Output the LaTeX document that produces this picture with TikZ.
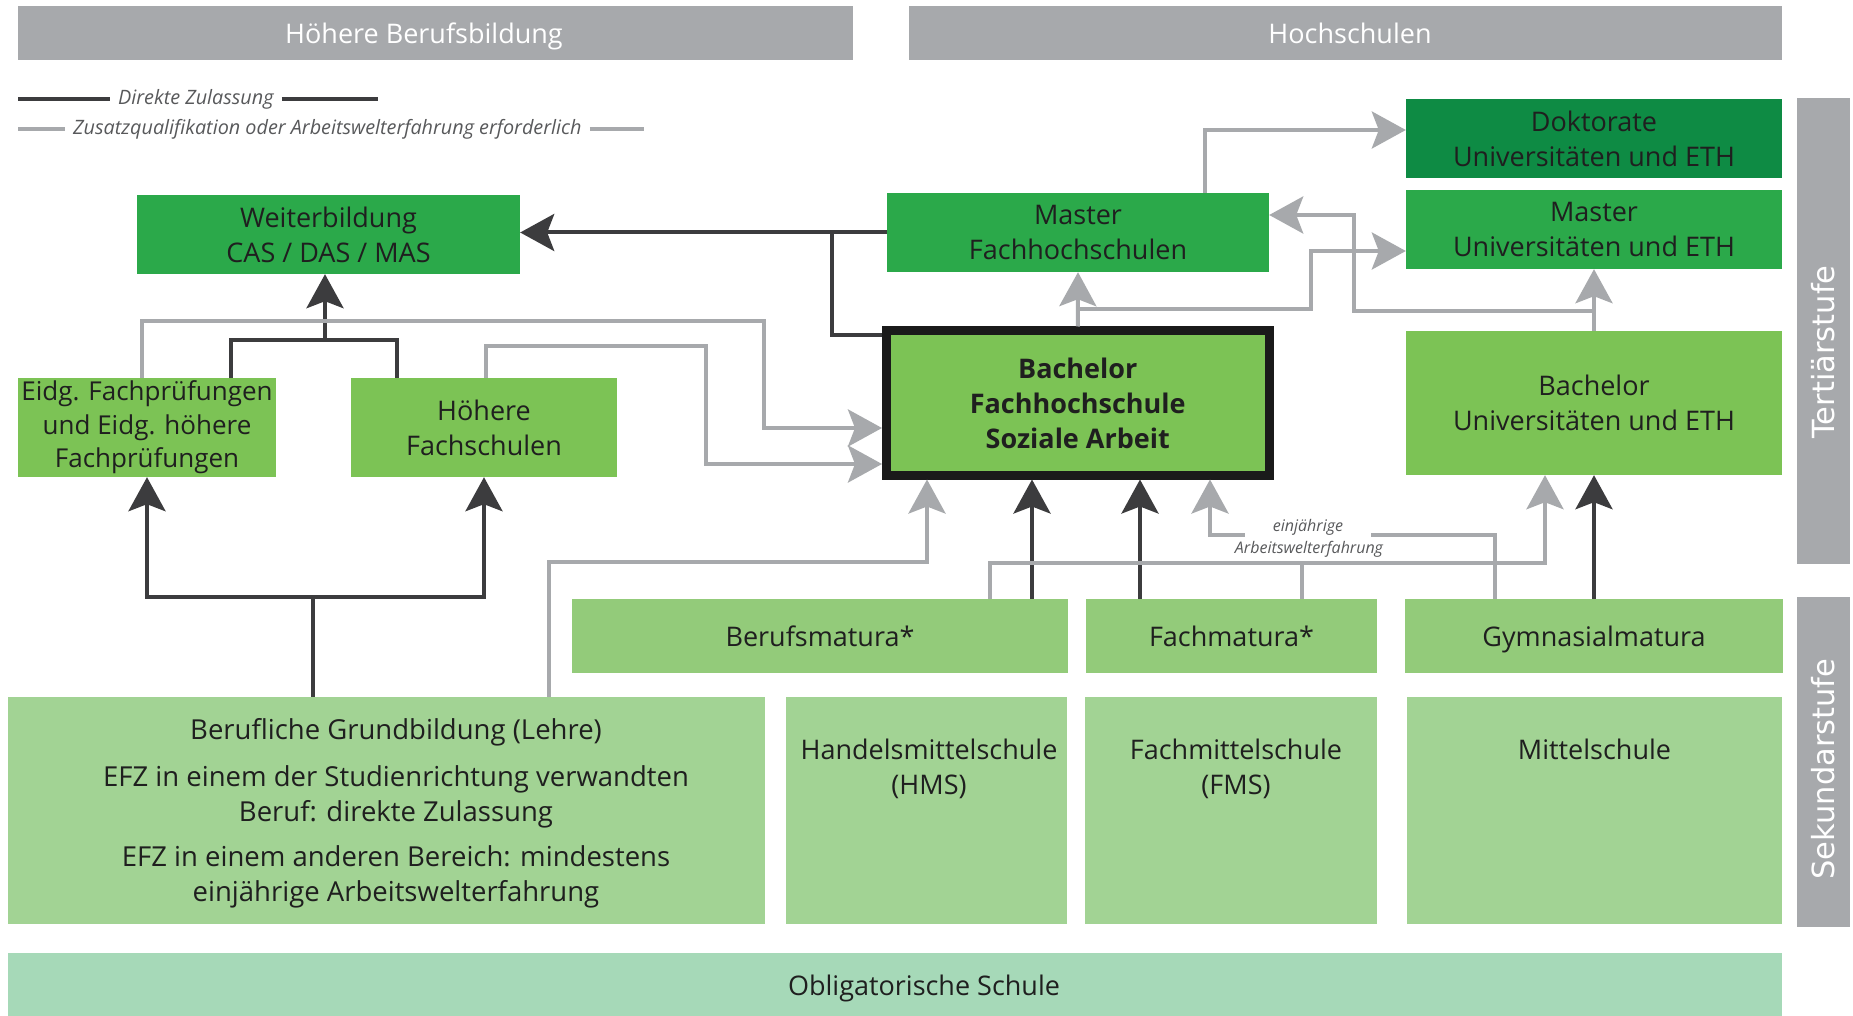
\documentclass[tikz,border=0pt]{standalone}
\usepackage{fontspec}
\setmainfont{Open Sans}
\newfontfamily\barfont{DejaVu Sans}
\usetikzlibrary{arrows.meta}
\definecolor{hdr}{HTML}{A7A9AC}
\definecolor{gdark}{HTML}{0E8B44}
\definecolor{gmid}{HTML}{2BA94A}
\definecolor{glight}{HTML}{7CC355}
\definecolor{gmat}{HTML}{93CB7A}
\definecolor{gsec}{HTML}{A2D394}
\definecolor{gobl}{HTML}{A6D9B8}
\definecolor{dkline}{HTML}{3C3C3E}
\definecolor{grline}{HTML}{A7A9AC}
\definecolor{bord}{HTML}{1A1A1A}
\definecolor{txt}{HTML}{1F1F1F}
\definecolor{legtxt}{HTML}{58595B}
\newcommand\mainsz{\fontsize{27}{35}\selectfont}
\begin{document}
\begin{tikzpicture}[x=1pt,y=-1pt,
  every node/.style={font=\mainsz, text=txt},
  box/.style={rectangle, inner sep=0pt, align=center},
  onel/.style={text height=24pt, text depth=4pt},
  hbox/.style={rectangle, inner sep=0pt, fill=hdr},
  htxt/.style={anchor=base, text=white, inner sep=0pt},
  vbar/.style={rectangle, inner sep=0pt, fill=hdr},
  bartxt/.style={rotate=90, text=white, font=\barfont\fontsize{30.5}{35}\selectfont},
  toptxt/.style={anchor=north, align=center, inner sep=0pt},
  dk/.style={draw=dkline, line width=4pt},
  gr/.style={draw=grline, line width=4pt},
  arr/.style={-{Stealth[length=34pt,width=37pt,inset=7pt]}},
  legend/.style={font=\itshape\fontsize{19.8}{22}\selectfont, text=legtxt, inner xsep=8pt, inner ysep=0pt},
  lbl/.style={font=\itshape\fontsize{16}{20}\selectfont, text=legtxt, inner sep=1pt}
]
\fill[white] (0,0) rectangle (1853,1016);
\useasboundingbox (0,0) rectangle (1853,1016);

% headers
\node[hbox, minimum width=835pt, minimum height=54pt] (h1) at (435.5,33) {};
\node[htxt] (h1t) at (424,44) {Höhere Berufsbildung};
\node[hbox, minimum width=873pt, minimum height=54pt] (h2) at (1345.5,33) {};
\node[htxt] (h2t) at (1350,44) {Hochschulen};

% side bars
\node[vbar, minimum width=53pt, minimum height=466pt] (tb) at (1823.5,331) {};
\node[bartxt] (tbt) at (1823.5,352) {Tertiärstufe};
\node[vbar, minimum width=53pt, minimum height=330pt] (sb) at (1823.5,762) {};
\node[bartxt] (sbt) at (1823.5,769) {Sekundarstufe};

% legend
\node[legend, anchor=west] (l1) at (110,99) {Direkte Zulassung};
\coordinate (l1a) at (18,99);
\coordinate (l1b) at (378,99);
\draw[dk, line width=4.5pt] (l1a) -- (l1.west);
\draw[dk, line width=4.5pt] (l1.east) -- (l1b);
\node[legend, anchor=west] (l2) at (65,129) {Zusatzqualifikation oder Arbeitswelterfahrung erforderlich};
\coordinate (l2a) at (18,129);
\coordinate (l2b) at (644,129);
\draw[gr] (l2a) -- (l2.west);
\draw[gr] (l2.east) -- (l2b);

% tertiary boxes
\node[box, fill=gmid, minimum width=383pt, minimum height=79pt] (wb) at (328.5,234.5) {Weiterbildung\\CAS / DAS / MAS};
\node[box, fill=gmid, minimum width=382pt, minimum height=79pt] (mfh) at (1078,232.5) {Master\\Fachhochschulen};
\node[box, fill=gdark, minimum width=376pt, minimum height=79pt] (dok) at (1594,138.5) {Doktorate\\Universitäten und ETH};
\node[box, fill=gmid, minimum width=376pt, minimum height=79pt] (mun) at (1594,229.5) {Master\\Universitäten und ETH};
\node[box, fill=glight, draw=bord, line width=9pt, minimum width=382.5pt, minimum height=144pt, font=\mainsz\bfseries] (bfh) at (1077.75,403) {Bachelor\\Fachhochschule\\Soziale Arbeit};
\node[box, fill=glight, minimum width=376pt, minimum height=144pt] (bun) at (1594,403) {Bachelor\\Universitäten und ETH};
\node[box, fill=glight, minimum width=258pt, minimum height=99pt, font=\fontsize{26}{33.5}\selectfont] (eidg) at (147,427.5) {Eidg. Fachprüfungen\\und Eidg. höhere\\Fachprüfungen};
\node[box, fill=glight, minimum width=266pt, minimum height=99pt] (hfs) at (484,427.5) {Höhere\\Fachschulen};

% matura
\node[box, onel, fill=gmat, minimum width=496pt, minimum height=74pt] (bm) at (820,636) {Berufsmatura*};
\node[box, onel, fill=gmat, minimum width=291pt, minimum height=74pt] (fm) at (1231.5,636) {Fachmatura*};
\node[box, onel, fill=gmat, minimum width=378pt, minimum height=74pt] (gm) at (1594,636) {Gymnasialmatura};

% secondary
\node[box, fill=gsec, minimum width=757pt, minimum height=227pt] (bg) at (386.5,810.5) {};
\node[toptxt, font=\fontsize{27.5}{35}\selectfont] (bgt) at (396,718) {Berufliche Grundbildung (Lehre)\\[12pt]EFZ in einem der Studienrichtung verwandten\\Beruf: direkte Zulassung\\[10pt]EFZ in einem anderen Bereich: mindestens\\einjährige Arbeitswelterfahrung};
\node[box, fill=gsec, minimum width=281pt, minimum height=227pt] (hms) at (926.5,810.5) {};
\node[toptxt] (hmst) at (929,739) {Handelsmittelschule\\(HMS)};
\node[box, fill=gsec, minimum width=292pt, minimum height=227pt] (fms) at (1231,810.5) {};
\node[toptxt] (fmst) at (1236,739) {Fachmittelschule\\(FMS)};
\node[box, fill=gsec, minimum width=375pt, minimum height=227pt] (ms) at (1594.5,810.5) {};
\node[toptxt] (mst) at (1594.5,739) {Mittelschule};

% obligatorische Schule
\node[box, fill=gobl, minimum width=1774pt, minimum height=63pt] (ob) at (895,984.5) {};
\node (obt) at (924,988.5) {Obligatorische Schule};

% ---- dark connectors
\draw[dk, arr] (mfh.west) -- (mfh.west -| wb.east);
\coordinate (d1) at (832,232.5);
\coordinate (d2) at (832,335);
\draw[dk] (bfh.west |- d2) -- (d2) -- (d1);

\coordinate (wj) at (325,340);
\coordinate (e1) at (231,340);
\coordinate (e2) at (397,340);
\draw[dk] (eidg.north -| e1) -- (e1) -- (e2) -- (hfs.north -| e2);
\draw[dk, arr] (wj) -- (wj |- wb.south);

\coordinate (bj) at (313,597);
\draw[dk] (bg.north -| bj) -- (bj);
\draw[dk, arr] (bj) -| (eidg.south);
\draw[dk, arr] (bj) -| (hfs.south);

\coordinate (a1) at (1032,560);
\coordinate (a2) at (1140,560);
\draw[dk, arr] (bm.north -| a1) -- (bfh.south -| a1);
\draw[dk, arr] (fm.north -| a2) -- (bfh.south -| a2);
\draw[dk, arr] (gm.north) -- (bun.south);

% ---- gray connectors
\coordinate (g1) at (142,321);
\coordinate (g2) at (764,321);
\coordinate (g2b) at (764,428);
\draw[gr, arr] (eidg.north -| g1) -- (g1) -- (g2) -- (g2b) -- (bfh.west |- g2b);

\coordinate (g3) at (486,346);
\coordinate (g4) at (706,346);
\coordinate (g4b) at (706,464);
\draw[gr, arr] (hfs.north -| g3) -- (g3) -- (g4) -- (g4b) -- (bfh.west |- g4b);

\coordinate (g5) at (549,562);
\coordinate (g6) at (927,562);
\draw[gr, arr] (bg.north -| g5) -- (g5) -- (g6) -- (bfh.south -| g6);

\coordinate (g7) at (990,563);
\coordinate (g8) at (1545,563);
\coordinate (g9) at (1302,563);
\draw[gr, arr] (bm.north -| g7) -- (g7) -- (g8) -- (bun.south -| g8);
\draw[gr] (fm.north -| g9) -- (g9);

\coordinate (g10) at (1495,535);
\coordinate (g11) at (1210,535);
\draw[gr, arr] (gm.north -| g10) -- (g10) -- (g11) -- (bfh.south -| g11);
\node[lbl, fill=white, inner xsep=28pt, inner ysep=2pt] (ej) at (1308,527) {einjährige};
\node[lbl] (awe) at (1309,549) {Arbeitswelterfahrung};

\draw[gr, arr] (bfh.north) -- (mfh.south);
\coordinate (g12) at (1311,309);
\coordinate (g13) at (1311,251);
\draw[gr, arr] (bfh.north |- g12) -- (g12) -- (g13) -- (mun.west |- g13);

\draw[gr, arr] (bun.north) -- (mun.south);
\coordinate (g14) at (1354,311);
\coordinate (g15) at (1354,215);
\draw[gr, arr] (bun.north |- g14) -- (g14) -- (g15) -- (mfh.east |- g15);

\coordinate (g16) at (1205,130);
\draw[gr, arr] (mfh.north -| g16) -- (g16) -- (dok.west |- g16);
\end{tikzpicture}
\end{document}
